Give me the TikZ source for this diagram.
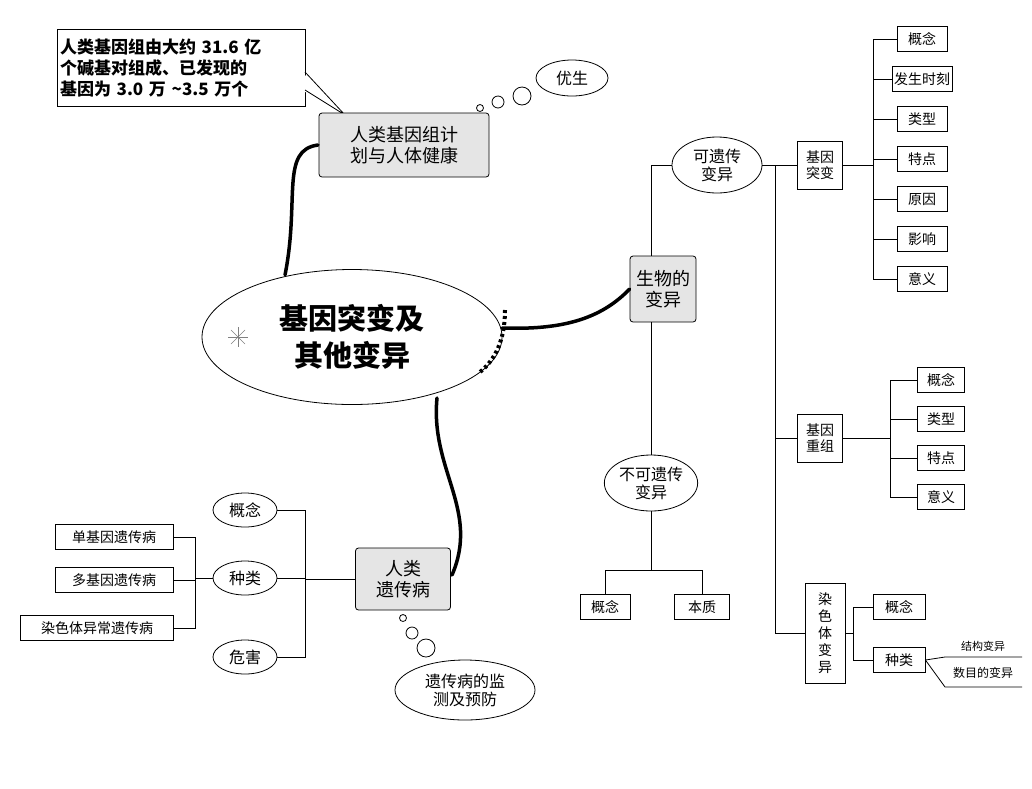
\documentclass[tikz,border=0pt]{standalone}
\usepackage{fontspec}
\setmainfont{Noto Sans CJK SC}
\usetikzlibrary{shapes.geometric}
\begin{document}
\begin{tikzpicture}[x=1pt,y=-1pt,
  gbox/.style={draw,thick,fill=gray!20,rounded corners=3pt,align=center,font=\fontsize{18}{21}\selectfont,inner sep=4pt},
  sbox/.style={draw,thick,fill=white,font=\fontsize{14}{16}\selectfont,inner sep=2pt},
  ell/.style={draw,thick,ellipse,fill=white,align=center,font=\fontsize{16}{18}\selectfont,inner sep=1pt},
  ln/.style={thick},
  thk/.style={line width=3.5pt,line cap=round}]
\useasboundingbox (0,0) rectangle (1032,788);
% callout
\node[draw,thick,fill=white,minimum width=248,minimum height=77,text width=242,align=left,font=\bfseries\fontsize{17}{21}\selectfont,inner sep=3pt] (call) at (181,68) {人类基因组由大约 31.6 亿\\个碱基对组成、已发现的\\基因为 3.0 万 \textasciitilde3.5 万个};
\fill[white] (302,72) -- (345,115) -- (302,90) -- cycle;
\draw[thick] (305,72) -- (345,115) -- (305,90);
\node[gbox,minimum width=170,minimum height=64] (hg) at (404,145) {人类基因组计\\划与人体健康};
\node[ell,minimum width=72,minimum height=36] (ys) at (572,78) {优生};
\foreach \x/\y/\r in {480/108/3.5,498/102/6,522/96/9} \draw[thick,fill=white] (\x,\y) circle (\r);
% central
\node[draw,thick,ellipse,minimum width=300,minimum height=135,font=\bfseries\fontsize{29}{37}\selectfont,align=center] (c) at (352,337) {基因突变及\\其他变异};
\foreach \a in {0,45,...,315} \draw[gray] (238,337) -- ++(\a:10);
\draw[thk] (285,275) .. controls (300,200) and (280,150) .. (318,145);
\draw[line width=4pt,dashed] (505,310) .. controls (505,340) and (495,360) .. (480,372);
\node[gbox,minimum width=66,minimum height=66] (bw) at (663,289) {生物的\\变异};
\draw[thk] (502,328) .. controls (560,330) and (600,320) .. (bw.west);
\node[gbox,minimum width=95,minimum height=62] (yc) at (403,579) {人类\\遗传病};
\draw[thk] (437,398) .. controls (430,470) and (480,510) .. (452,575);
\foreach \x/\y/\r in {403/618/3.5,412/633/6,426/648/9} \draw[thick,fill=white] (\x,\y) circle (\r);
\node[ell,minimum width=140,minimum height=60] (jc) at (465,690) {遗传病的监\\测及预防};
% left tree
\node[ell,minimum width=64,minimum height=34] (l1) at (245,510) {概念};
\node[ell,minimum width=64,minimum height=34] (l2) at (245,578) {种类};
\node[ell,minimum width=64,minimum height=34] (l3) at (245,657) {危害};
\draw[ln] (yc.west) -- (305,579);
\draw[ln] (l1.east) -- (305,510) -- (305,657) -- (l3.east);
\draw[ln] (l2.east) -- (305,578);
\node[sbox,minimum width=118,minimum height=25] (d1) at (114,537) {单基因遗传病};
\node[sbox,minimum width=118,minimum height=25] (d2) at (114,580) {多基因遗传病};
\node[sbox,minimum width=153,minimum height=25] (d3) at (97,628) {染色体异常遗传病};
\draw[ln] (l2.west) -- (195,578);
\draw[ln] (d1.east) -- (195,537) -- (195,628) -- (d3.east);
\draw[ln] (d2.east) -- (195,580);
% right
\node[ell,minimum width=90,minimum height=56] (ky) at (717,165) {可遗传\\变异};
\node[ell,minimum width=90,minimum height=56] (bk) at (651,483) {不可遗传\\变异};
\draw[ln] (bw.north -| 651,0) -- (651,165) -- (ky.west);
\draw[ln] (bw.south -| 651,0) -- (bk.north);
\node[sbox,minimum width=50,minimum height=25] (b1) at (605,607) {概念};
\node[sbox,minimum width=55,minimum height=25] (b2) at (702,607) {本质};
\draw[ln] (bk.south) -- (651,570);
\draw[ln] (b1.north) -- (605,570) -- (702,570) -- (b2.north);
\node[sbox,minimum width=45,minimum height=48,align=center,inner sep=2pt] (jt) at (820,165) {基因\\突变};
\node[sbox,minimum width=45,minimum height=48,align=center,inner sep=2pt] (jz) at (820,438) {基因\\重组};
\node[sbox,minimum width=40,minimum height=100,align=center,inner sep=2pt,font=\fontsize{14}{17}\selectfont] (rs) at (825,633) {染\\色\\体\\变\\异};
\draw[ln] (ky.east) -- (jt.west);
\draw[ln] (775,165) -- (775,633) -- (rs.west);
\draw[ln] (775,438) -- (jz.west);
\foreach \t [count=\i] in {概念,发生时刻,类型,特点,原因,影响,意义} {
  \node[sbox,minimum width=50,minimum height=25] (m\i) at (922,{40*\i-1}) {\t};
  \draw[ln] (873,{40*\i-1}) -- (m\i.west);}
\draw[ln] (873,39) -- (873,279);
\draw[ln] (jt.east) -- (873,165);
\foreach \t [count=\i] in {概念,类型,特点,意义} {
  \node[sbox,minimum width=47,minimum height=25] (r\i) at (941,{380+39*(\i-1)}) {\t};
  \draw[ln] (890,{380+39*(\i-1)}) -- (r\i.west);}
\draw[ln] (890,380) -- (890,497);
\draw[ln] (jz.east) -- (890,438);
\node[sbox,minimum width=52,minimum height=25] (s1) at (899,607) {概念};
\node[sbox,minimum width=52,minimum height=25] (s2) at (899,660) {种类};
\draw[ln] (rs.east) -- (853,633);
\draw[ln] (s1.west) -- (853,607) -- (853,660) -- (s2.west);
\node[font=\fontsize{11}{13}\selectfont] (t1) at (983,646) {结构变异};
\node[font=\fontsize{12}{14}\selectfont] (t2) at (983,673) {数目的变异};
\draw[ln] (s2.east) -- (945,657) -- (1022,657);
\draw[ln] (s2.east) -- (945,687) -- (1022,687);
\end{tikzpicture}
\end{document}
